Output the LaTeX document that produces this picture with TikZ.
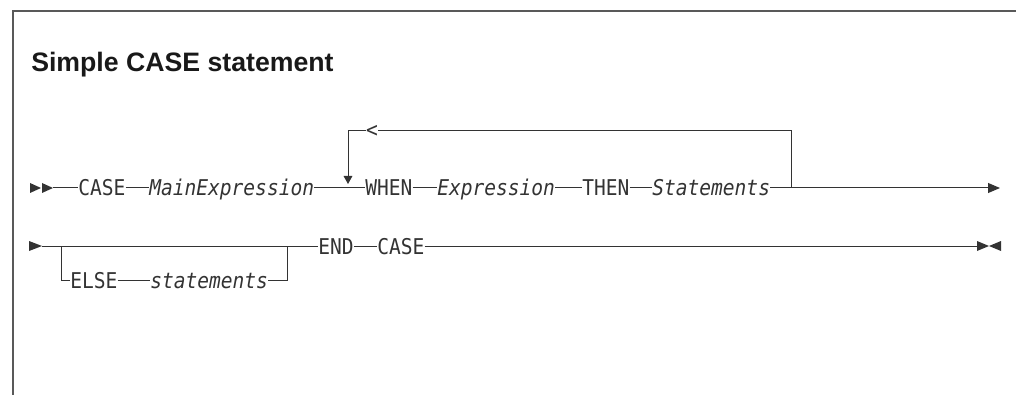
\documentclass[tikz,border=0pt]{standalone}
\usepackage{fontspec}
\setmainfont{Liberation Sans}
\newfontfamily\synfont[FakeStretch=0.9]{DejaVu Sans Mono}
\usetikzlibrary{arrows.meta}

\definecolor{railgray}{gray}{0.2}
\definecolor{framegray}{gray}{0.35}

\tikzset{
  rail/.style={draw=railgray,line width=0.75pt},
  kw/.style={inner sep=0pt,anchor=base west,text=railgray,
    font=\synfont\fontsize{16.3}{19}\selectfont},
  var/.style={kw,font=\synfont\itshape\fontsize{16.3}{19}\selectfont},
  headline/.style={inner sep=0pt,anchor=base west,text=black!90,
    font=\bfseries\fontsize{20}{24}\selectfont},
}

\begin{document}
\begin{tikzpicture}[x=0.75pt,y=-0.75pt]
        \useasboundingbox (0,0) rectangle (1016,395) ;
        \draw[framegray,line width=1.1pt] (1016,11) -- (13,11) -- (13,395) ;
        \node[headline] (ttl) at (31,72) {Simple CASE statement} ;

        % first row
        \coordinate (r1) at (0,188) ;
        \coordinate (st1) at (53,188) ;
        \coordinate (e1) at (1000,188) ;
        \coordinate (lpl) at (348,131) ;
        \coordinate (lpr) at (791,131) ;
        \coordinate (dn) at (348,184) ;
        \fill[railgray] (30,183) -- (41,188) -- (30,193) -- cycle ;
        \fill[railgray] (42,183) -- (53,188) -- (42,193) -- cycle ;
        \node[kw] (case) at (78,196) {CASE} ;
        \node[var] (mainexp) at (149,196) {MainExpression} ;
        \node[kw] (when) at (365,196) {WHEN} ;
        \node[var] (expr) at (437,196) {Expression} ;
        \node[kw] (then) at (582,196) {THEN} ;
        \node[var] (stmts) at (652,196) {Statements} ;
        \draw[rail] (st1) -- (case.west |- r1) ;
        \draw[rail] (case.east |- r1) -- (mainexp.west |- r1) ;
        \draw[rail] (mainexp.east |- r1) -- (when.west |- r1) ;
        \draw[rail] (when.east |- r1) -- (expr.west |- r1) ;
        \draw[rail] (expr.east |- r1) -- (then.west |- r1) ;
        \draw[rail] (then.east |- r1) -- (stmts.west |- r1) ;
        \draw[rail,-{Triangle[length=9pt,width=7.5pt]}] (stmts.east |- r1) -- (e1) ;
        % repeat loop
        \draw[rail] (lpr |- r1) -- (lpr) -- (lpl) ;
        \draw[rail,-{Triangle[length=6pt,width=6.5pt]}] (lpl) -- (dn) ;
        \node[kw,anchor=center,fill=white] (back) at (372,131) {<} ;

        % second row
        \coordinate (r2) at (0,246) ;
        \coordinate (r3) at (0,280) ;
        \coordinate (st2) at (42,246) ;
        \coordinate (b1) at (61,246) ;
        \coordinate (b2) at (287,246) ;
        \coordinate (e2) at (977,246) ;
        \fill[railgray] (29,241) -- (42,246) -- (29,251) -- cycle ;
        \node[kw] (endkw) at (318,254) {END} ;
        \node[kw] (case2) at (377,254) {CASE} ;
        \node[kw] (else) at (70,288) {ELSE} ;
        \node[var] (elsestmts) at (150,288) {statements} ;
        \draw[rail] (st2) -- (endkw.west |- r2) ;
        \draw[rail] (endkw.east |- r2) -- (case2.west |- r2) ;
        \draw[rail] (case2.east |- r2) -- (e2) ;
        \draw[rail] (b1) -- (b1 |- r3) -- (else.west |- r3) ;
        \draw[rail] (else.east |- r3) -- (elsestmts.west |- r3) ;
        \draw[rail] (elsestmts.east |- r3) -- (b2 |- r3) -- (b2) ;
        \fill[railgray] (977,241) -- (989,246) -- (977,251) -- cycle ;
        \fill[railgray] (1001,241) -- (989,246) -- (1001,251) -- cycle ;
      \end{tikzpicture}
\end{document}
